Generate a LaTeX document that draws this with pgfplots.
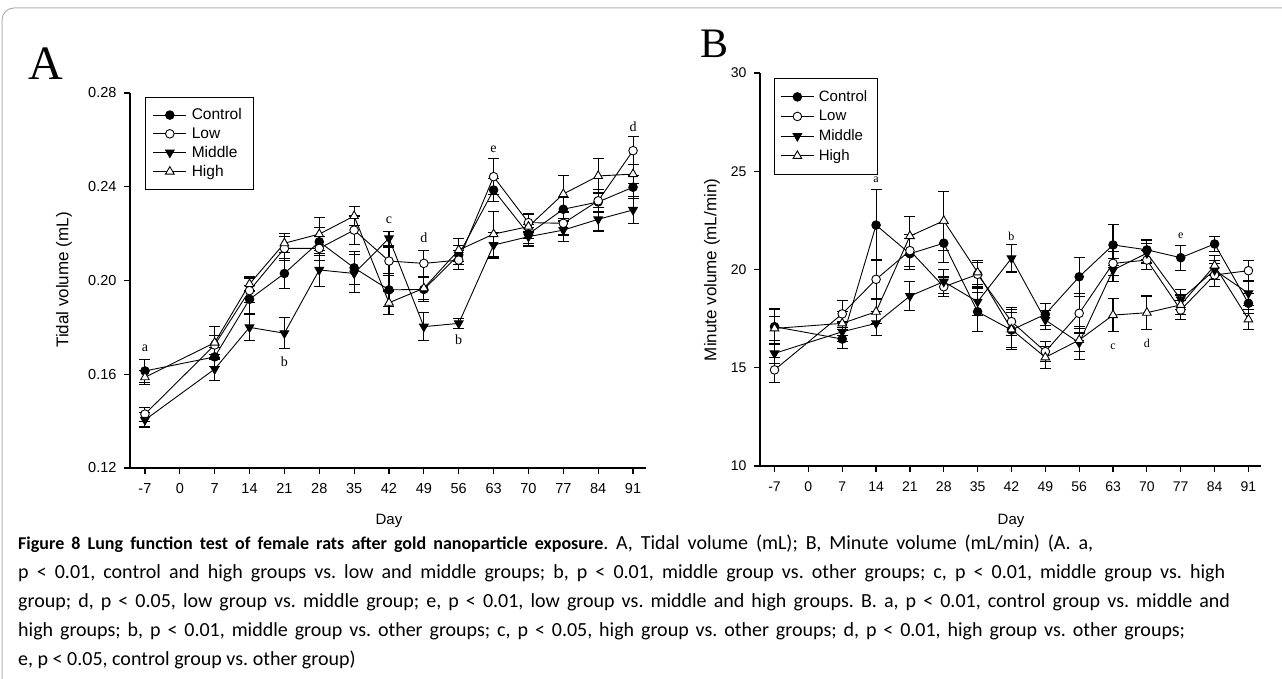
\documentclass[border=0pt]{standalone}
\usepackage{pgfplots}
\usepackage{pgfplotstable}
\pgfplotsset{compat=1.18}
\usepackage{fontspec}
\setmainfont{Liberation Sans}
\newfontfamily\serifA{Liberation Serif}
\newfontfamily\capfont{Carlito}

\pgfplotstableread{
day ctl ctle low lowe mid mide high highe
-7  0.1614 0.0050 0.1430 0.0030 0.1405 0.0030 0.1587 0.0030
7   0.1674 0.0040 0.1725 0.0040 0.1622 0.0050 0.1735 0.0070
14  0.1920 0.0060 0.1957 0.0050 0.1800 0.0055 0.1985 0.0030
21  0.2030 0.0064 0.2137 0.0050 0.1775 0.0066 0.2159 0.0040
28  0.2165 0.0060 0.2137 0.0050 0.2045 0.0070 0.2198 0.0070
35  0.2054 0.0070 0.2215 0.0060 0.2030 0.0080 0.2275 0.0040
42  0.1960 0.0070 0.2083 0.0060 0.2180 0.0030 0.1905 0.0050
49  0.1962 0.0050 0.2073 0.0055 0.1803 0.0060 0.1967 0.0050
56  0.2109 0.0040 0.2087 0.0040 0.1817 0.0020 0.2130 0.0050
63  0.2386 0.0050 0.2443 0.0078 0.2151 0.0055 0.2198 0.0095
70  0.2198 0.0040 0.2247 0.0040 0.2187 0.0040 0.2230 0.0050
77  0.2304 0.0050 0.2244 0.0050 0.2215 0.0050 0.2369 0.0080
84  0.2335 0.0040 0.2340 0.0050 0.2261 0.0050 0.2446 0.0075
91  0.2398 0.0050 0.2554 0.0060 0.2301 0.0057 0.2454 0.0040
}\tidal

\pgfplotstableread{
day ctl ctle low lowe mid mide high highe
-7  17.09 0.90 14.89 0.65 15.73 0.50 17.00 0.60
7   16.46 0.50 17.74 0.68 16.83 0.50 17.26 0.60
14  22.26 1.80 19.50 1.00 17.26 0.60 17.85 0.60
21  20.80 0.80 20.96 0.80 18.65 0.75 21.70 1.00
28  21.34 1.00 19.12 0.50 19.38 0.60 22.48 1.50
35  17.85 1.00 19.75 0.60 18.36 0.70 19.85 0.60
42  16.92 0.90 17.35 0.70 20.57 0.70 16.95 1.00
49  17.72 0.55 15.82 0.50 17.43 0.50 15.53 0.55
56  19.63 1.00 17.77 1.00 16.27 0.85 16.41 0.60
63  21.25 1.05 20.31 0.60 19.97 0.60 17.68 0.85
70  21.00 0.50 20.48 0.50 20.83 0.50 17.80 0.85
77  20.60 0.63 17.94 0.50 18.48 0.50 18.20 0.50
84  21.30 0.40 19.72 0.60 19.97 0.50 20.20 0.50
91  18.28 0.50 19.94 0.50 18.79 0.60 17.46 0.50
}\minute

\pgfplotsset{
  lung/.style={
    scale only axis,
    axis x line*=bottom, axis y line*=left,
    axis line style={line width=1.3pt},
    tick align=outside,
    major tick length=6pt,
    every tick/.style={black, line width=1.2pt},
    xmin=-10, xmax=93.6,
    xtick={-7,0,...,91},
    /pgf/number format/assume math mode=true,
    xticklabel style={yshift=-6pt},
    yticklabel style={xshift=-4pt},
    error bars/y dir=both, error bars/y explicit,
    error bars/error bar style={line width=1.1pt, black},
    error bars/error mark options={line width=1.1pt, mark size=5.5pt, black, rotate=90},
    legend cell align=left,
    legend image code/.code={\draw[mark repeat=2,mark phase=2] plot coordinates {(0pt,0pt) (16.5pt,0pt) (33pt,0pt)};},
  },
  pbase/.style={black, line width=0.9pt},
  pctl/.style={pbase, mark=*, mark size=4.3pt, mark options={fill=black, draw=black, solid}},
  plow/.style={pbase, mark=*, mark size=4.3pt, mark options={fill=white, draw=black, solid}},
  pmid/.style={pbase, mark=triangle*, mark size=5pt, mark options={fill=black, draw=black, rotate=180, solid}},
  phigh/.style={pbase, mark=triangle*, mark size=5pt, mark options={fill=white, draw=black, solid}},
}

\begin{document}
\begin{tikzpicture}
\path[use as bounding box] (0pt,0pt) rectangle (1282pt,679pt);
\draw[gray!60, line width=1pt, rounded corners=12pt] (2pt,-5pt) -- (2pt,671pt) -- (1290pt,671pt);

% Panel A
\begin{axis}[lung,
  at={(130pt,211pt)}, anchor=south west,
  width=516pt, height=375pt,
  ymin=0.12, ymax=0.28,
  ytick={0.12,0.16,0.20,0.24,0.28},
  yticklabel style={/pgf/number format/.cd, fixed, fixed zerofill, precision=2},
  tick label style={font=\fontsize{14.5}{14.5}\selectfont},
  legend style={at={(rel axis cs:0.03,0.9885)}, anchor=north west,
    font=\fontsize{15.5}{15.5}\selectfont, draw=black, line width=0.8pt,
    row sep=2.3pt, inner xsep=7pt, inner ysep=9pt,
    nodes={inner xsep=5pt, inner ysep=2pt}},
]
\addplot[pctl] table[x=day,y=ctl,y error=ctle]{\tidal};
\addlegendentry{Control}
\addplot[plow] table[x=day,y=low,y error=lowe]{\tidal};
\addlegendentry{Low}
\addplot[pmid] table[x=day,y=mid,y error=mide]{\tidal};
\addlegendentry{Middle}
\addplot[phigh] table[x=day,y=high,y error=highe]{\tidal};
\addlegendentry{High}
\begin{scope}[font=\serifA\fontsize{14}{14}\selectfont]
\node at (axis cs:-7,0.1711) {a};
\node at (axis cs:21,0.1654) {b};
\node at (axis cs:42,0.2258) {c};
\node at (axis cs:49,0.2181) {d};
\node at (axis cs:56,0.1746) {b};
\node at (axis cs:63,0.2560) {e};
\node at (axis cs:91,0.2656) {d};
\end{scope}
\end{axis}

% Panel B
\begin{axis}[lung,
  at={(760pt,213pt)}, anchor=south west,
  width=501pt, height=393pt,
  ymin=10, ymax=30,
  ytick={10,15,20,25,30},
  tick label style={font=\fontsize{14}{14}\selectfont},
  legend style={at={(rel axis cs:0.028,0.9865)}, anchor=north west,
    font=\fontsize{15}{15}\selectfont, draw=black, line width=0.8pt,
    row sep=3.5pt, inner xsep=6pt, inner ysep=10pt,
    nodes={inner xsep=4.5pt, inner ysep=2pt}},
]
\addplot[pctl] table[x=day,y=ctl,y error=ctle]{\minute};
\addlegendentry{Control}
\addplot[plow] table[x=day,y=low,y error=lowe]{\minute};
\addlegendentry{Low}
\addplot[pmid] table[x=day,y=mid,y error=mide]{\minute};
\addlegendentry{Middle}
\addplot[phigh] table[x=day,y=high,y error=highe]{\minute};
\addlegendentry{High}
\begin{scope}[font=\serifA\fontsize{12}{12}\selectfont]
\node at (axis cs:14,24.55) {a};
\node at (axis cs:42,21.70) {b};
\node at (axis cs:63,16.07) {c};
\node at (axis cs:70,16.24) {d};
\node at (axis cs:77,21.70) {e};
\end{scope}
\end{axis}

% axis titles
\node[rotate=90, font=\fontsize{17}{17}\selectfont] at (64pt,399pt) {Tidal volume (mL)};
\node[rotate=90, font=\fontsize{17}{17}\selectfont] at (712pt,409pt) {Minute volume (mL/min)};
\node[font=\fontsize{15}{15}\selectfont] at (389pt,158pt) {Day};
\node[font=\fontsize{15}{15}\selectfont] at (1011pt,158pt) {Day};

% panel letters
\node[anchor=base west, font=\serifA\fontsize{48}{48}\selectfont, inner sep=0pt] at (28pt,599pt) {A};
\node[anchor=base west, font=\serifA\fontsize{42}{42}\selectfont, inner sep=0pt] at (700pt,621pt) {B};

% caption
\begin{scope}[every node/.style={anchor=base west, inner sep=0pt, font=\capfont\fontsize{20}{20}\selectfont\frenchspacing}]
\node at (18pt,129pt) {\makebox[1075pt][s]{{\fontsize{18}{18}\selectfont\bfseries Figure 8 Lung function test of female rats after gold nanoparticle exposure}. A, Tidal volume (mL); B, Minute volume (mL/min) (A. a,}};
\node at (18pt,100pt) {\makebox[1207pt][s]{p < 0.01, control and high groups vs. low and middle groups; b, p < 0.01, middle group vs. other groups; c, p < 0.01, middle group vs. high}};
\node at (18pt,71pt) {\makebox[1212pt][s]{group; d, p < 0.05, low group vs. middle group; e, p < 0.01, low group vs. middle and high groups. B. a, p < 0.01, control group vs. middle and}};
\node at (18pt,42pt) {\makebox[1167pt][s]{high groups; b, p < 0.01, middle group vs. other groups; c, p < 0.05, high group vs. other groups; d, p < 0.01, high group vs. other groups;}};
\node at (18pt,13pt) {e, p < 0.05, control group vs. other group)};
\end{scope}
\end{tikzpicture}
\end{document}
